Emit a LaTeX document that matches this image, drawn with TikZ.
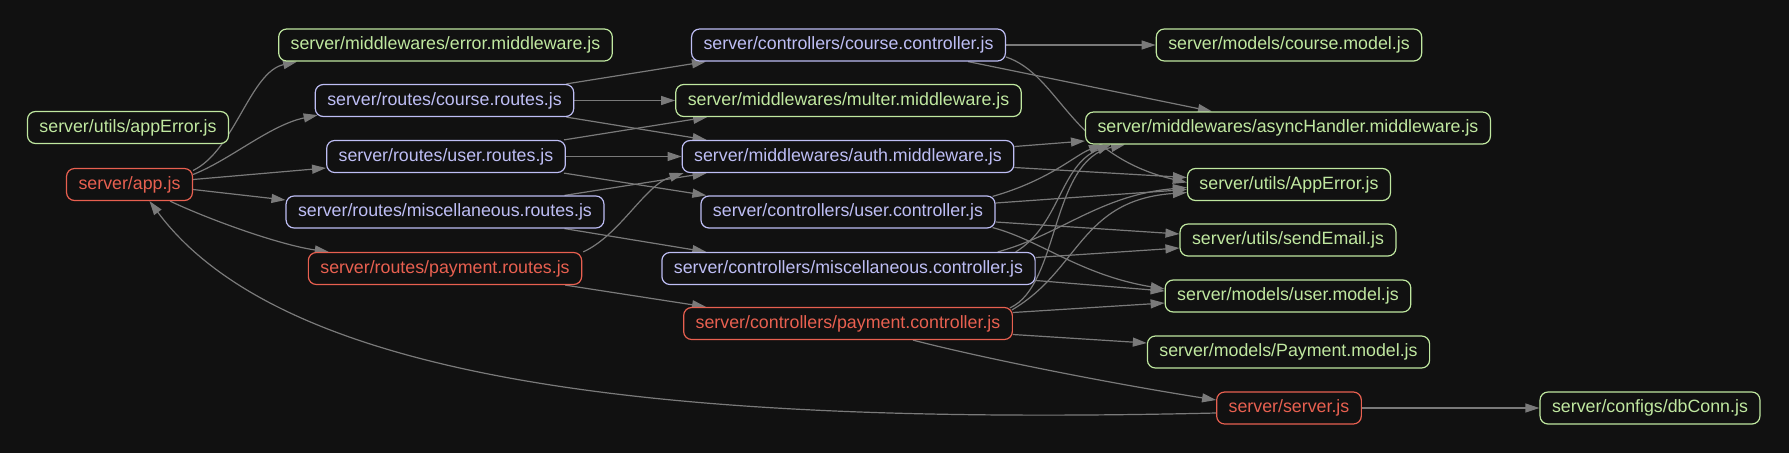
\documentclass[tikz,border=0pt]{standalone}
\usepackage{fontspec}
\setmainfont{Liberation Sans}
\usetikzlibrary{arrows.meta,calc}
\definecolor{bg}{RGB}{17,17,17}
\definecolor{gr}{RGB}{192,232,160}
\definecolor{lv}{RGB}{190,190,245}
\definecolor{rd}{RGB}{232,96,80}
\definecolor{eg}{RGB}{122,122,122}
\pgfdeclarelayer{back}
\pgfdeclarelayer{edges}
\pgfsetlayers{back,edges,main}
\begin{document}
\begin{tikzpicture}[x=1pt,y=-1pt,
  box/.style={draw, rounded corners=8pt, line width=1.2pt, minimum height=32pt,
    inner xsep=12pt, inner ysep=0pt, fill=bg,
    font=\fontsize{17.8}{20}\selectfont, text height=12.8pt, text depth=3.7pt},
  gbox/.style={box, draw=gr, text=gr},
  lbox/.style={box, draw=lv, text=lv},
  rbox/.style={box, draw=rd, text=rd},
  edge/.style={draw=eg, line width=1.2pt, -{Triangle[length=14pt,width=9pt]}}]
\begin{pgfonlayer}{back}
\fill[bg] (0,0) rectangle (1789,453);
\end{pgfonlayer}
\useasboundingbox (0,0) rectangle (1789,453);

% column 1
\node[gbox] (appErr) at (128,127.5) {server/utils/appError.js};
\node[rbox] (app) at (129.5,184.5) {server/app.js};
% column 2
\node[gbox] (errmw) at (445.5,45) {server/middlewares/error.middleware.js};
\node[lbox] (courseR) at (444.5,100.5) {server/routes/course.routes.js};
\node[lbox] (userR) at (446,156.5) {server/routes/user.routes.js};
\node[lbox] (miscR) at (445,212) {server/routes/miscellaneous.routes.js};
\node[rbox] (payR) at (445,268.5) {server/routes/payment.routes.js};
% column 3
\node[lbox] (courseC) at (848.5,45) {server/controllers/course.controller.js};
\node[gbox] (multer) at (848.5,100.5) {server/middlewares/multer.middleware.js};
\node[lbox] (auth) at (848,156.5) {server/middlewares/auth.middleware.js};
\node[lbox] (userC) at (848,212) {server/controllers/user.controller.js};
\node[lbox] (miscC) at (848.5,268.5) {server/controllers/miscellaneous.controller.js};
\node[rbox] (payC) at (848,323.5) {server/controllers/payment.controller.js};
% column 4
\node[gbox] (courseM) at (1289,45) {server/models/course.model.js};
\node[gbox] (async) at (1288,128) {server/middlewares/asyncHandler.middleware.js};
\node[gbox] (AppErr) at (1289,184.5) {server/utils/AppError.js};
\node[gbox] (sendEmail) at (1288,240) {server/utils/sendEmail.js};
\node[gbox] (userM) at (1288,296) {server/models/user.model.js};
\node[gbox] (payM) at (1288.5,352) {server/models/Payment.model.js};
\node[rbox] (server) at (1289,408) {server/server.js};
% column 5
\node[gbox] (dbConn) at (1650,408) {server/configs/dbConn.js};

\begin{pgfonlayer}{edges}
% from app.js
\draw[edge] ($(app.east)+(0,-14)$) .. controls (235,150) and (250,72) .. ($(errmw.south west)+(19,0)$);
\draw[edge] ($(app.east)+(0,-10)$) .. controls (230,160) and (270,125) .. ($(courseR.south west)+(3,-2)$);
\draw[edge] ($(app.east)+(0,-5)$) -- ($(userR.west)+(0,11.5)$);
\draw[edge] ($(app.east)+(0,5)$) -- ($(miscR.west)+(0,-12)$);
\draw[edge] ($(app.south east)+(-23,0)$) .. controls (210,220) and (280,245) .. ($(payR.north west)+(21,0)$);
% server -> app
\draw[edge] ($(server.west)+(0,5)$) .. controls (700,425) and (290,390) .. ($(app.south)+(20,0)$);
% column 2 -> 3
\draw[edge] ($(courseR.north east)+(-8,0)$) -- ($(courseC.south west)+(15,0)$);
\draw[edge] (courseR.east) -- (multer.west);
\draw[edge] ($(courseR.south east)+(-8,0)$) -- ($(auth.north west)+(25,0)$);
\draw[edge] ($(userR.north east)+(-2,0)$) -- ($(multer.south west)+(32,0)$);
\draw[edge] (userR.east) -- (auth.west);
\draw[edge] ($(userR.south east)+(-2,0)$) -- ($(userC.north west)+(6,0)$);
\draw[edge] ($(miscR.north east)+(-40,0)$) -- ($(auth.south west)+(25,0)$);
\draw[edge] ($(miscR.south east)+(-40,0)$) -- ($(miscC.north west)+(45,0)$);
\draw[edge] ($(payR.north east)+(1,0)$) .. controls (620,235) and (645,185) .. ($(auth.south west)+(2,0)$);
\draw[edge] ($(payR.south east)+(-17,0)$) -- ($(payC.north west)+(23,0)$);
% column 3 -> 4
\draw[edge] (courseC.east) -- (courseM.west);
\draw[edge] ($(courseC.south east)+(-38,0)$) -- ($(async.north west)+(127,0)$);
\draw[edge] ($(courseC.east)+(0,12)$) .. controls (1060,75) and (1070,155) .. ($(AppErr.west)+(0,-2)$);
\draw[edge] ($(auth.east)+(0,-10)$) -- ($(async.west)+(0,13)$);
\draw[edge] ($(auth.east)+(0,11)$) -- ($(AppErr.west)+(0,-7)$);
\draw[edge] ($(userC.north east)+(-3,1)$) .. controls (1050,180) and (1075,155) .. ($(async.south west)+(18,0)$);
\draw[edge] ($(userC.east)+(0,-9)$) -- ($(AppErr.west)+(0,5)$);
\draw[edge] ($(userC.east)+(0,10)$) -- ($(sendEmail.west)+(0,-6)$);
\draw[edge] ($(userC.south east)+(-3,-1)$) .. controls (1040,240) and (1080,275) .. ($(userM.west)+(0,-7)$);
\draw[edge] ($(miscC.north east)+(-20,0)$) .. controls (1060,225) and (1060,165) .. ($(async.south west)+(26,0)$);
\draw[edge] ($(miscC.north east)+(-38,0)$) .. controls (1060,235) and (1100,195) .. ($(AppErr.west)+(0,3)$);
\draw[edge] ($(miscC.east)+(0,-11)$) -- ($(sendEmail.west)+(0,8)$);
\draw[edge] ($(miscC.east)+(0,12)$) -- ($(userM.west)+(0,-5)$);
\draw[edge] ($(payC.north east)+(-3,1)$) .. controls (1060,285) and (1050,160) .. ($(async.south west)+(40,0)$);
\draw[edge] ($(payC.north east)+(-1,3)$) .. controls (1080,270) and (1080,200) .. ($(AppErr.west)+(0,8)$);
\draw[edge] ($(payC.east)+(0,-11)$) -- ($(userM.west)+(0,7)$);
\draw[edge] ($(payC.east)+(0,11)$) -- ($(payM.west)+(0,-9)$);
\draw[edge] ($(payC.south east)+(-100,0)$) .. controls (990,360) and (1120,385) .. ($(server.west)+(0,-8)$);
\draw[edge] (server.east) -- (dbConn.west);
\end{pgfonlayer}
\end{tikzpicture}
\end{document}
